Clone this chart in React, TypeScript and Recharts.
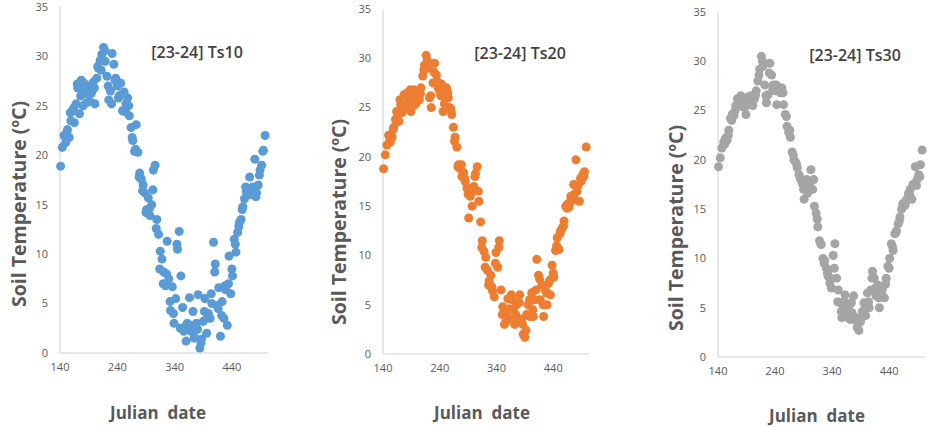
import React from "react";
import { ScatterChart, Scatter, XAxis, YAxis, ZAxis } from "recharts";

// Julian dates (sampled every 3 days)
const julianDays = [
  141, 144, 147, 150, 153, 156, 159, 162, 165, 168, 171, 174, 177, 180, 183, 186, 189, 192, 195, 198,
  201, 204, 207, 210, 213, 216, 219, 222, 225, 228, 231, 234, 237, 240, 243, 246, 249, 252, 255, 258,
  261, 264, 267, 270, 273, 276, 279, 282, 285, 288, 291, 294, 297, 300, 303, 306, 309, 312, 315, 318,
  321, 324, 327, 330, 333, 336, 339, 342, 345, 348, 351, 354, 357, 360, 363, 366, 369, 372, 375, 378,
  381, 384, 387, 390, 393, 396, 399, 402, 405, 408, 411, 414, 417, 420, 423, 426, 429, 432, 435, 438,
  441, 444, 447, 450, 453, 456, 459, 462, 465, 468, 471, 474, 477, 480, 483, 486, 489, 492, 495, 498,
];

// in-between days (scatter of the dense clusters)
const extraDays = [
  152, 158, 164, 170, 176, 182, 188, 194, 200, 206, 212, 218, 224, 230, 236, 242, 248, 254, 260, 266,
  272, 278, 284, 290, 296, 302, 308, 314, 320, 326, 332, 338, 344, 350, 356, 362, 368, 374, 380, 386,
  392, 398, 404, 410, 416, 422, 428, 434, 440, 446, 452, 458, 464, 470, 476, 482, 488, 494,
];

const ts10 = [
  18.9, 20.8, 22.0, 21.3, 22.6, 21.8, 23.5, 24.5, 23.3, 25.2, 26.8, 24.2, 27.6, 25.0, 26.5, 25.3, 27.0, 25.5, 26.3, 27.4,
  25.2, 27.8, 28.8, 29.6, 30.2, 30.9, 29.5, 28.0, 25.6, 26.5, 30.3, 29.2, 27.8, 27.0, 26.0, 27.3, 24.5, 26.4, 25.2, 25.8,
  24.0, 22.8, 21.5, 20.4, 23.1, 20.3, 18.2, 17.6, 17.0, 16.2, 14.5, 15.7, 13.9, 15.0, 18.5, 19.0, 13.5, 12.0, 10.3, 9.5,
  8.2, 6.8, 11.3, 7.5, 4.3, 6.7, 3.0, 5.5, 10.5, 12.3, 7.8, 4.6, 2.6, 1.2, 2.8, 5.6, 2.2, 4.2, 1.6, 3.0,
  5.9, 0.5, 1.4, 3.2, 5.5, 2.0, 4.0, 3.5, 5.0, 11.2, 9.0, 4.8, 6.6, 1.7, 5.2, 3.5, 6.4, 2.8, 9.8, 6.0,
  7.8, 11.5, 10.2, 12.2, 13.2, 13.5, 14.8, 15.6, 16.3, 16.0, 17.8, 16.5, 16.0, 19.6, 16.2, 17.0, 18.5, 19.0, 20.5, 22.0,
];
const ts10Extra = [
  22.3, 24.3, 24.8, 27.2, 26.0, 27.3, 26.2, 26.6, 26.8, 29.0, 28.6, 30.6, 27.0, 25.2, 27.6, 25.8, 26.2, 24.4, 25.0, 21.8,
  20.6, 17.8, 16.4, 14.2, 14.6, 16.5, 12.6, 8.5, 7.0, 8.0, 5.2, 4.0, 11.0, 2.5, 2.2, 3.0, 2.8, 1.5, 2.4, 1.0,
  4.2, 3.6, 6.0, 8.2, 4.5, 3.8, 6.8, 7.0, 8.5, 11.0, 12.8, 14.5, 16.8, 16.2, 16.8, 15.8, 18.0, 20.4,
];

const ts20 = [
  18.8, 20.2, 21.2, 22.2, 21.5, 22.0, 23.0, 23.8, 24.0, 23.6, 25.3, 24.5, 26.3, 25.0, 26.5, 25.6, 24.6, 26.0, 26.8, 25.4,
  26.3, 25.8, 27.0, 28.2, 29.3, 30.3, 29.0, 26.0, 25.0, 27.5, 29.5, 28.3, 27.0, 26.6, 27.4, 24.6, 26.5, 27.0, 26.0, 25.0,
  24.3, 23.0, 22.0, 21.0, 19.2, 18.8, 18.0, 18.4, 17.5, 16.8, 13.8, 16.0, 15.0, 17.0, 18.3, 19.0, 15.5, 13.4, 11.5, 10.4,
  9.8, 8.5, 7.4, 8.0, 6.4, 5.8, 10.3, 8.8, 11.5, 6.5, 4.8, 3.0, 4.2, 5.6, 3.6, 6.0, 4.5, 3.0, 5.0, 3.6,
  6.0, 3.5, 2.0, 1.7, 4.0, 5.0, 3.8, 6.2, 3.8, 5.5, 9.6, 8.0, 5.5, 7.0, 3.8, 6.5, 5.0, 7.2, 6.0, 9.0,
  7.8, 10.5, 11.8, 10.6, 12.5, 12.8, 13.5, 15.0, 15.2, 14.9, 16.0, 15.6, 16.2, 19.7, 17.0, 15.5, 17.5, 18.2, 18.5, 21.0,
];
const ts20Extra = [
  21.8, 22.8, 24.6, 25.8, 25.2, 26.2, 26.8, 25.2, 26.0, 26.4, 28.8, 29.8, 26.2, 28.6, 27.6, 26.2, 25.4, 26.5, 24.8, 21.6,
  19.0, 19.2, 17.8, 16.2, 16.5, 18.0, 16.5, 10.8, 8.8, 7.0, 6.8, 9.2, 10.8, 4.0, 3.2, 4.6, 5.5, 4.0, 5.2, 3.0,
  2.4, 5.5, 4.5, 6.5, 7.6, 5.0, 6.2, 7.5, 8.2, 11.0, 12.2, 13.0, 14.8, 15.5, 17.2, 16.5, 17.8, 18.0,
];

const ts30 = [
  19.3, 20.2, 21.2, 21.8, 22.2, 22.0, 23.0, 24.2, 24.6, 24.5, 25.5, 26.2, 25.6, 26.5, 25.4, 26.3, 24.6, 26.0, 25.8, 26.5,
  25.5, 26.2, 27.0, 28.0, 29.2, 30.5, 29.5, 27.6, 25.8, 26.6, 29.8, 28.6, 27.6, 27.0, 25.6, 27.4, 26.8, 27.3, 25.6, 24.6,
  23.4, 22.8, 22.3, 20.8, 20.0, 19.8, 19.2, 18.5, 18.0, 17.6, 16.0, 17.2, 16.6, 17.5, 19.0, 17.0, 15.3, 14.6, 13.2, 11.8,
  11.4, 10.0, 9.8, 9.0, 8.2, 7.5, 7.0, 10.3, 11.5, 8.0, 6.8, 5.5, 4.0, 5.0, 6.3, 4.6, 5.2, 3.8, 4.5, 6.2,
  4.0, 3.0, 2.7, 3.6, 4.6, 5.5, 4.2, 6.5, 5.0, 6.8, 8.7, 8.0, 6.2, 7.3, 5.0, 6.5, 7.2, 6.0, 8.0, 9.2,
  10.0, 11.5, 10.8, 12.5, 12.8, 13.5, 14.2, 15.0, 15.6, 15.4, 16.0, 16.6, 17.0, 16.0, 17.5, 19.3, 18.0, 18.5, 19.5, 21.0,
];
const ts30Extra = [
  21.6, 22.5, 24.0, 25.0, 25.8, 26.0, 25.4, 26.4, 26.0, 26.6, 28.6, 30.0, 26.5, 28.8, 27.2, 27.6, 27.0, 26.8, 24.4, 23.0,
  20.5, 19.5, 18.2, 17.0, 18.0, 17.8, 18.0, 14.0, 11.5, 9.5, 8.5, 8.0, 9.0, 5.6, 4.6, 5.6, 4.0, 5.5, 3.8, 3.4,
  4.0, 5.0, 5.6, 8.0, 7.0, 6.0, 6.8, 7.4, 9.0, 11.2, 12.6, 13.8, 15.5, 15.8, 16.5, 17.5, 17.4, 18.3,
];

const xTicks = [140, 240, 340, 440];
const yTicks = [0, 5, 10, 15, 20, 25, 30, 35];

const FONT = "'Open Sans', 'Noto Sans', sans-serif";

interface PanelProps {
  title: string;
  temps: number[];
  extra: number[];
  color: string;
  plotLeft: number;
  plotRight: number;
  plotTop: number;
  plotBottom: number;
  yLabelX: number;
  yLabelY: number;
  xLabelX: number;
  xLabelY: number;
  titleX: number;
  titleY: number;
}

const Panel: React.FC<PanelProps> = ({
  title,
  temps,
  extra,
  color,
  plotLeft,
  plotRight,
  plotTop,
  plotBottom,
  yLabelX,
  yLabelY,
  xLabelX,
  xLabelY,
  titleX,
  titleY,
}) => {
  const data = [
    ...julianDays.map((d, i) => ({ day: d, temp: temps[i] })),
    ...extraDays.map((d, i) => ({ day: d, temp: extra[i] })),
  ];
  const yAxisW = 30;
  const leftPad = 10;
  const chartLeft = plotLeft - yAxisW - leftPad;
  const width = plotRight - chartLeft + 6;

  return (
    <>
      <div style={{ position: "absolute", left: chartLeft, top: 0 }}>
        <ScatterChart
          width={width}
          height={428}
          margin={{ top: plotTop, right: 6, left: leftPad, bottom: 428 - plotBottom - 30 }}
        >
          <XAxis
            type="number"
            dataKey="day"
            domain={[140, 503]}
            ticks={xTicks}
            height={30}
            tickLine={false}
            tickSize={6}
            tickMargin={4}
            axisLine={{ stroke: "#d0d0d0" }}
            tick={{ fontSize: 11, fill: "#595959", fontFamily: FONT }}
          />
          <YAxis
            type="number"
            dataKey="temp"
            domain={[0, 35]}
            ticks={yTicks}
            width={yAxisW}
            tickLine={false}
            tickSize={6}
            tickMargin={6}
            axisLine={{ stroke: "#d0d0d0" }}
            tick={{ fontSize: 11, fill: "#595959", fontFamily: FONT }}
          />
          <ZAxis range={[38, 38]} />
          <Scatter data={data} fill={color} isAnimationActive={false} />
        </ScatterChart>
      </div>
      <div
        style={{
          position: "absolute",
          left: titleX,
          top: titleY,
          transform: "translate(-50%, -50%)",
          fontFamily: FONT,
          fontWeight: 600,
          fontSize: 16,
          color: "#404040",
          whiteSpace: "nowrap",
        }}
      >
        {title}
      </div>
      <div
        style={{
          position: "absolute",
          left: yLabelX,
          top: yLabelY,
          transform: "translate(-50%, -50%) rotate(-90deg)",
          fontFamily: FONT,
          fontWeight: 700,
          fontSize: 19.5,
          color: "#595959",
          whiteSpace: "nowrap",
        }}
      >
        Soil Temperature (ºC)
      </div>
      <div
        style={{
          position: "absolute",
          left: xLabelX,
          top: xLabelY,
          transform: "translate(-50%, -50%)",
          fontFamily: FONT,
          fontWeight: 700,
          fontSize: 17,
          color: "#595959",
          whiteSpace: "pre",
        }}
      >
        {"Julian  date"}
      </div>
    </>
  );
};

export default function App() {
  return (
    <div
      style={{
        position: "fixed",
        left: 0,
        top: 0,
        width: 933,
        height: 428,
        background: "#ffffff",
        overflow: "hidden",
      }}
    >
      <Panel
        title="[23-24] Ts10"
        temps={ts10}
        extra={ts10Extra}
        color="#5B9BD5"
        plotLeft={60}
        plotRight={268}
        plotTop={7}
        plotBottom={353}
        yLabelX={18}
        yLabelY={204}
        xLabelX={158}
        xLabelY={412}
        titleX={197}
        titleY={52}
      />
      <Panel
        title="[23-24] Ts20"
        temps={ts20}
        extra={ts20Extra}
        color="#ED7D31"
        plotLeft={383}
        plotRight={589}
        plotTop={9}
        plotBottom={354}
        yLabelX={338}
        yLabelY={222}
        xLabelX={482}
        xLabelY={412}
        titleX={520}
        titleY={53}
      />
      <Panel
        title="[23-24] Ts30"
        temps={ts30}
        extra={ts30Extra}
        color="#A5A5A5"
        plotLeft={718}
        plotRight={925}
        plotTop={12}
        plotBottom={357}
        yLabelX={675}
        yLabelY={228}
        xLabelX={817}
        xLabelY={415}
        titleX={855}
        titleY={55}
      />
    </div>
  );
}
